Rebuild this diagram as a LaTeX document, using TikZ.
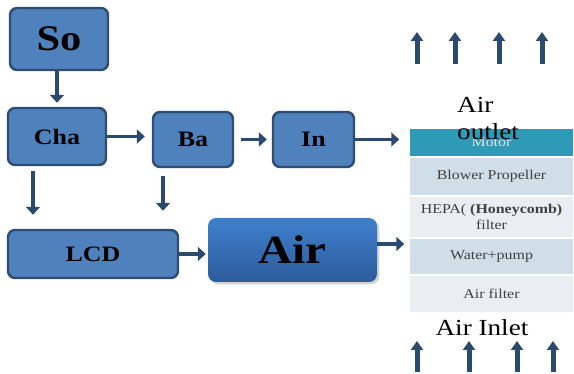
\documentclass[tikz,border=0pt]{standalone}
\usepackage{fontspec}
\setmainfont[FakeStretch=1.18]{Liberation Serif}
\usetikzlibrary{arrows.meta,shadows}
\definecolor{blockblue}{HTML}{4F81BD}
\definecolor{blockedge}{HTML}{2F4D72}
\definecolor{flowdark}{HTML}{2B4A6D}
\definecolor{airtop}{HTML}{3F7FCC}
\definecolor{airbot}{HTML}{2C5C9C}
\definecolor{motorteal}{HTML}{2F9AB6}
\definecolor{layerdark}{HTML}{D0DFE7}
\definecolor{layerlight}{HTML}{E8EEF2}
\definecolor{layertext}{HTML}{404040}

\begin{document}
\begin{tikzpicture}[x=1pt,y=-1pt,
    block/.style={draw=blockedge, line width=2.4pt, rounded corners=7pt, fill=blockblue, font=\bfseries\fontsize{22}{24}\selectfont},
    flow/.style={draw=flowdark, line width=3.5pt, -{Triangle[length=8pt,width=14pt]}},
    layer/.style={draw=white, line width=1.5pt, minimum width=165pt, inner sep=0pt, align=center, text=layertext, font=\fontsize{13.5}{16}\selectfont},
    updraft/.style={draw=flowdark, line width=5pt, -{Triangle[length=9pt,width=12pt]}}]
    \useasboundingbox (0,0) rectangle (574,374);

    % control blocks
    \node[block, minimum width=98pt, minimum height=62pt, font=\bfseries\fontsize{36}{38}\selectfont] (so) at (59,39) {\raisebox{-4pt}{So}};
    \node[block, minimum width=98pt, minimum height=57pt] (cha) at (57,136.5) {Cha};
    \node[block, minimum width=80pt, minimum height=55pt] (ba) at (193,139.5) {Ba};
    \node[block, minimum width=81pt, minimum height=55pt] (in) at (313.5,139.5) {In};
    \node[block, minimum width=170pt, minimum height=48pt] (lcd) at (93,254) {LCD};
    \node[rounded corners=8pt, top color=airtop, bottom color=airbot, drop shadow={opacity=0.35}, minimum width=169pt, minimum height=64pt, font=\bfseries\fontsize{40}{42}\selectfont] (air) at (292.5,250) {Air};

    % purifier stack
    \node[layer, fill=motorteal, minimum height=29pt, text=white!80!motorteal] (motor) at (491.5,142.5) {Motor};
    \node[layer, fill=layerdark, minimum height=39pt] (blower) at (491.5,176.5) {Blower Propeller};
    \node[layer, fill=layerlight, minimum height=42pt] (hepa) at (491.5,217) {HEPA( \textbf{(Honeycomb)}\\filter};
    \node[layer, fill=layerdark, minimum height=37pt] (water) at (491.5,256.5) {Water+pump};
    \node[layer, fill=layerlight, minimum height=38pt] (filter) at (491.5,294) {Air filter};

    \node[font=\fontsize{23}{27}\selectfont, align=left, anchor=west, inner sep=0pt] (outlet) at (457,118.5) {Air\\outlet};
    \node[font=\fontsize{23}{25}\selectfont] (inlet) at (482,328) {Air Inlet};

    % flow arrows
    \draw[flow, shorten >=4pt] (cha.north |- so.south) -- (cha.north);
    \draw[flow, shorten >=7pt] (cha.east) -- (cha.east -| ba.west);
    \draw[flow, shorten <=7pt, shorten >=5pt] (ba) -- (in);
    \draw[flow, shorten >=9pt] (in) -- (in -| motor.west);
    \draw[flow, shorten <=5pt, shorten >=14pt] ([xshift=-24pt]cha.south) -- ([xshift=-24pt]cha.south |- lcd.north);
    \draw[flow, shorten <=8pt, shorten >=18pt] ([xshift=-30pt]ba.south) -- ([xshift=-30pt]ba.south |- lcd.north);
    \draw[flow, shorten >=2pt] (lcd.east) -- (lcd.east -| air.west);
    \draw[flow, shorten >=4pt] ([yshift=6pt]air.east) -- ([yshift=6pt]air.east -| water.west);

    % air in and out
    \foreach \ux in {417,455,499,542} \draw[updraft] (\ux,64) -- (\ux,32);
    \foreach \ux in {417,469,517,553} \draw[updraft] (\ux,372) -- (\ux,341);
\end{tikzpicture}
\end{document}
